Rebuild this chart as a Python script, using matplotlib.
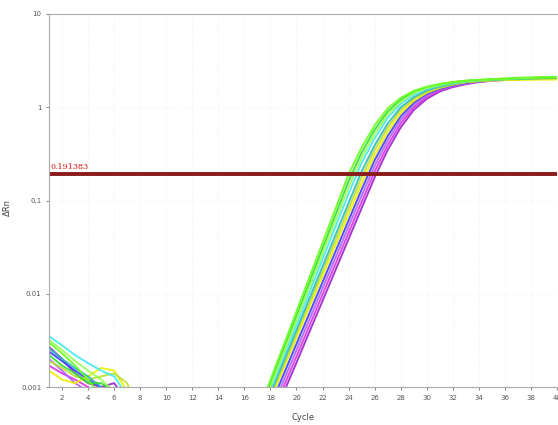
import matplotlib.pyplot as plt
from matplotlib.ticker import FixedLocator, FixedFormatter, NullLocator

# ciclos 1..40
ciclos = list(range(1, 41))

# Delta Rn por poco (baseline ciclos 1-16, depois a amplificacao 17-40)
poco_a1 = [0.0030, 0.0023, 0.0017, 0.0012, 0.0008, 0.0005, 0.0002, 0.0001, -0.0001, -0.0002, -0.0002, -0.0001, -0.0001, 0.0000, 0.0001, 0.0002,
           0.00051, 0.00119, 0.00277, 0.00646, 0.0151, 0.0352, 0.082, 0.191, 0.37, 0.64, 0.97, 1.26, 1.50, 1.66, 1.78, 1.87, 1.93, 1.97, 2.00, 2.04, 2.07, 2.09, 2.11, 2.12]
poco_a2 = [0.0022, 0.0017, 0.0014, 0.0011, 0.0011, 0.0009, 0.0004, 0.0001, -0.0001, -0.0001, -0.0002, -0.0002, -0.0001, 0.0000, 0.0001, 0.0002,
           0.00047, 0.00109, 0.00251, 0.00578, 0.0133, 0.0306, 0.0705, 0.162, 0.326, 0.575, 0.898, 1.20, 1.455, 1.63, 1.755, 1.854, 1.92, 1.96, 1.99, 2.01, 2.03, 2.05, 2.06, 2.07]
poco_a3 = [0.0035, 0.0028, 0.0022, 0.0018, 0.0015, 0.0013, 0.0008, 0.0003, 0.0000, -0.0001, -0.0002, -0.0001, -0.0001, 0.0000, 0.0001, 0.0001,
           0.00041, 0.00092, 0.00207, 0.00465, 0.0104, 0.0234, 0.0525, 0.118, 0.252, 0.463, 0.766, 1.09, 1.36, 1.565, 1.71, 1.82, 1.895, 1.945, 1.98, 2.00, 2.03, 2.05, 2.07, 2.09]
poco_a4 = [0.0026, 0.0020, 0.0016, 0.0013, 0.0010, 0.0006, 0.0003, 0.0001, -0.0001, -0.0002, -0.0001, -0.0001, 0.0000, 0.0000, 0.0001, 0.0001,
           0.00039, 0.00085, 0.00186, 0.00408, 0.00895, 0.0196, 0.043, 0.0944, 0.205, 0.391, 0.669, 0.998, 1.28, 1.515, 1.67, 1.79, 1.876, 1.935, 1.97, 2.00, 2.02, 2.04, 2.05, 2.06]
poco_a5 = [0.0019, 0.0016, 0.0013, 0.0012, 0.0013, 0.0014, 0.0011, 0.0005, 0.0001, -0.0001, -0.0002, -0.0001, -0.0001, 0.0000, 0.0000, 0.0001,
           0.00036, 0.00079, 0.0017, 0.0037, 0.0080, 0.0174, 0.0377, 0.0817, 0.177, 0.348, 0.607, 0.934, 1.23, 1.477, 1.643, 1.767, 1.862, 1.92, 1.96, 1.99, 2.01, 2.03, 2.04, 2.05]
poco_a6 = [0.0015, 0.0012, 0.0011, 0.0013, 0.0016, 0.0015, 0.0009, 0.0003, 0.0000, -0.0001, -0.0002, -0.0002, -0.0001, 0.0000, 0.0000, 0.0001,
           0.00034, 0.00073, 0.00157, 0.00337, 0.00723, 0.0155, 0.0332, 0.0711, 0.152, 0.306, 0.545, 0.865, 1.17, 1.43, 1.61, 1.745, 1.845, 1.90, 1.93, 1.95, 1.96, 1.97, 1.98, 1.98]
poco_a7 = [0.0024, 0.0019, 0.0015, 0.0012, 0.0010, 0.0007, 0.0003, 0.0001, -0.0001, -0.0002, -0.0002, -0.0001, 0.0000, 0.0000, 0.0001, 0.0001,
           0.00030, 0.00063, 0.00135, 0.0029, 0.0062, 0.0133, 0.0285, 0.0611, 0.131, 0.27, 0.49, 0.80, 1.12, 1.39, 1.58, 1.72, 1.83, 1.90, 1.95, 1.98, 2.00, 2.02, 2.04, 2.05]
poco_a8 = [0.0020, 0.0015, 0.0011, 0.0009, 0.0006, 0.0003, 0.0001, 0.0000, -0.0001, -0.0001, -0.0002, -0.0001, -0.0001, 0.0000, 0.0000, 0.0001,
           0.00025, 0.00054, 0.00116, 0.00248, 0.00532, 0.0114, 0.0244, 0.0524, 0.112, 0.235, 0.438, 0.731, 1.057, 1.336, 1.549, 1.697, 1.808, 1.888, 1.94, 1.98, 2.01, 2.03, 2.05, 2.06]
poco_a9 = [0.0017, 0.0014, 0.0012, 0.0010, 0.0008, 0.0005, 0.0002, 0.0000, -0.0001, -0.0002, -0.0002, -0.0001, -0.0001, 0.0000, 0.0000, 0.0001,
           0.00021, 0.00046, 0.0010, 0.00213, 0.00457, 0.0098, 0.021, 0.045, 0.0964, 0.205, 0.391, 0.669, 0.998, 1.28, 1.515, 1.67, 1.79, 1.876, 1.935, 1.97, 2.00, 2.03, 2.05, 2.07]
poco_a10 = [0.0027, 0.0020, 0.0014, 0.0011, 0.0010, 0.0011, 0.0007, 0.0002, 0.0000, -0.0001, -0.0002, -0.0001, -0.0001, 0.0000, 0.0000, 0.0001,
            0.00018, 0.00040, 0.00086, 0.00183, 0.00393, 0.0084, 0.018, 0.0386, 0.0828, 0.177, 0.348, 0.607, 0.934, 1.23, 1.477, 1.643, 1.767, 1.862, 1.92, 1.96, 1.99, 2.02, 2.04, 2.06]
poco_a11 = [0.0032, 0.0025, 0.0019, 0.0015, 0.0012, 0.0009, 0.0004, 0.0001, -0.0001, -0.0002, -0.0002, -0.0001, 0.0000, 0.0000, 0.0001, 0.0001,
            0.00044, 0.0010, 0.00228, 0.00519, 0.0118, 0.0269, 0.0611, 0.139, 0.287, 0.517, 0.832, 1.146, 1.41, 1.60, 1.733, 1.837, 1.90, 1.95, 1.99, 2.02, 2.05, 2.07, 2.09, 2.10]

pocos = [poco_a1, poco_a11, poco_a2, poco_a3, poco_a4, poco_a5, poco_a6, poco_a7, poco_a8, poco_a9, poco_a10]
cores = ['#66ff1a', '#99ff55', '#33dd33', '#44e8f0', '#33b8b8', '#b8e030', '#eeee00', '#3a3aff', '#b060ff', '#dd33dd', '#9922cc']

limiar = 0.191383
x_ticks = list(range(2, 41, 2))
y_ticks = [0.001, 0.01, 0.1, 1, 10]
y_labels = ['0.001', '0.01', '0.1', '1', '10']

fig = plt.figure(figsize=(5.58, 4.25), dpi=100)
ax = fig.add_axes([49 / 558, 38 / 425, 508 / 558, 373 / 425])

# desenha do ultimo para o primeiro para o verde ficar por cima
for valores, cor in reversed(list(zip(pocos, cores))):
    ax.plot(ciclos, valores, color=cor, linewidth=1.4, alpha=0.9)

# linha do limiar
ax.axhline(limiar, color='#8b1a1a', linewidth=2.8)
ax.text(1.1, limiar * 1.08, '0.191383', color='#e01010', fontsize=5.8,
        family='DejaVu Serif', ha='left', va='bottom')

ax.set_yscale('log')
ax.set_xlim(1, 40)
ax.set_ylim(0.001, 10)

ax.yaxis.set_major_locator(FixedLocator(y_ticks))
ax.yaxis.set_major_formatter(FixedFormatter(y_labels))
ax.yaxis.set_minor_locator(NullLocator())
ax.set_xticks(x_ticks)

ax.tick_params(axis='both', labelsize=5, colors='#555555', length=2, width=0.5)
ax.grid(True, color='#eeeeee', linestyle=':', linewidth=0.6)

for lado in ['left', 'bottom', 'top']:
    ax.spines[lado].set_color('#aaaaaa')
    ax.spines[lado].set_linewidth(0.8)
ax.spines['right'].set_visible(False)

ax.set_xlabel('Cycle', fontsize=6, color='#444444', labelpad=9)
ax.set_ylabel('ΔRn', fontsize=6, color='#444444')
ax.yaxis.set_label_coords(-0.072, 0.48)

fig.savefig('out.png', dpi=100)
